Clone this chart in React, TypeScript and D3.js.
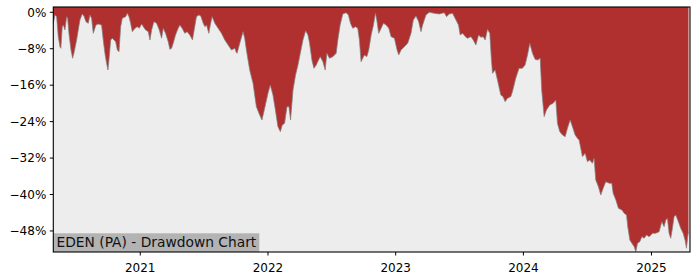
import React from "react";
import * as d3 from "d3";

const TITLE = "EDEN (PA) - Drawdown Chart";

// time as decimal years
const decimalYears = [
  2020.321, 2020.334, 2020.347, 2020.360, 2020.373, 2020.380, 2020.391, 2020.399, 2020.412, 2020.425,
  2020.433, 2020.443, 2020.459, 2020.472, 2020.482, 2020.503, 2020.516, 2020.529, 2020.547, 2020.560,
  2020.576, 2020.594, 2020.607, 2020.620, 2020.633, 2020.654, 2020.672, 2020.698, 2020.711, 2020.724,
  2020.737, 2020.748, 2020.758, 2020.769, 2020.782, 2020.795, 2020.808, 2020.821, 2020.834, 2020.847,
  2020.860, 2020.886, 2020.899, 2020.912, 2020.925, 2020.938, 2020.959, 2020.977, 2020.992, 2021.011,
  2021.024, 2021.042, 2021.063, 2021.076, 2021.089, 2021.107, 2021.128, 2021.149, 2021.167, 2021.180,
  2021.198, 2021.219, 2021.232, 2021.245, 2021.258, 2021.276, 2021.297, 2021.310, 2021.328, 2021.349,
  2021.367, 2021.388, 2021.409, 2021.422, 2021.440, 2021.459, 2021.474, 2021.493, 2021.506, 2021.519,
  2021.537, 2021.550, 2021.563, 2021.584, 2021.610, 2021.636, 2021.662, 2021.688, 2021.714, 2021.740,
  2021.753,
  2021.758, 2021.779, 2021.805, 2021.818, 2021.831, 2021.857, 2021.883, 2021.909, 2021.935, 2021.953,
  2021.974, 2022.000, 2022.018, 2022.039, 2022.058, 2022.078, 2022.097, 2022.112, 2022.130, 2022.149,
  2022.164, 2022.177, 2022.196, 2022.216, 2022.235, 2022.253, 2022.274, 2022.295, 2022.313, 2022.326,
  2022.344, 2022.360, 2022.378, 2022.396, 2022.409, 2022.430, 2022.448, 2022.461, 2022.482, 2022.508,
  2022.534, 2022.547, 2022.565, 2022.586, 2022.612, 2022.630, 2022.646, 2022.664, 2022.685, 2022.703,
  2022.716, 2022.729, 2022.742, 2022.755, 2022.774, 2022.789, 2022.808, 2022.826, 2022.841, 2022.852,
  2022.867, 2022.886, 2022.904, 2022.925, 2022.946, 2022.964, 2022.990, 2023.011, 2023.024, 2023.042,
  2023.068, 2023.094, 2023.120, 2023.138, 2023.159, 2023.180, 2023.198, 2023.211, 2023.237, 2023.263,
  2023.302, 2023.341, 2023.380, 2023.399, 2023.419, 2023.445, 2023.472, 2023.492, 2023.505, 2023.524,
  2023.550,
  2023.563, 2023.589, 2023.607, 2023.628, 2023.649, 2023.667, 2023.685, 2023.701, 2023.719, 2023.737,
  2023.748, 2023.758, 2023.779, 2023.797, 2023.823, 2023.841, 2023.857, 2023.875, 2023.901, 2023.914,
  2023.940, 2023.966, 2023.992, 2024.013, 2024.032, 2024.050, 2024.071, 2024.091, 2024.110, 2024.131,
  2024.143, 2024.162, 2024.180, 2024.206, 2024.232, 2024.253, 2024.266, 2024.284, 2024.305, 2024.326,
  2024.344, 2024.365, 2024.383, 2024.404, 2024.422, 2024.435, 2024.448, 2024.461, 2024.482, 2024.500,
  2024.518, 2024.539, 2024.552, 2024.565, 2024.586, 2024.604, 2024.623, 2024.643, 2024.670, 2024.690,
  2024.701, 2024.722, 2024.742, 2024.769, 2024.787, 2024.805, 2024.815, 2024.831, 2024.847, 2024.865,
  2024.878, 2024.891, 2024.909, 2024.925, 2024.943, 2024.961, 2024.982, 2025.008, 2025.034, 2025.060,
  2025.081, 2025.099, 2025.112, 2025.125, 2025.138, 2025.151, 2025.164, 2025.177, 2025.190, 2025.211,
  2025.229, 2025.248, 2025.263, 2025.274, 2025.284, 2025.290,
];

// drawdown in percent
const drawdownPct = [
  -2.42, -0.59, -0.96, -5.35, -7.54, -7.91, -3.15, -2.79, -3.88, -0.96,
  -1.32, -4.62, -8.27, -10.10, -9.0, -6.08, -3.88, -1.69, -0.37, -0.81,
  -2.06, -2.42, -0.59, -1.32, -4.62, -2.79, -2.57, -2.79, -6.08, -9.0,
  -11.2, -12.66, -9.74, -6.08, -5.71, -6.08, -6.45, -8.27, -8.64, -3.15,
  -1.32, -0.96, -0.23, -0.96, -2.42, -4.25, -3.52, -3.15, -3.52, -2.57,
  -3.15, -3.88, -4.25, -6.08, -3.88, -2.06, -2.42, -3.88, -5.71, -3.52,
  -4.62, -6.45, -8.13, -7.91, -6.81, -4.98, -3.52, -2.79, -3.52, -4.62,
  -4.25, -4.98, -6.08, -3.88, -0.96, -0.59, -0.81, -2.42, -3.15, -2.79,
  -4.62, -2.57, -0.96, -2.42, -3.52, -4.62, -6.08, -7.18, -8.27, -7.91,
  -8.86,
  -9.0, -6.81, -4.25, -5.71, -8.27, -12.66, -15.59, -20.71, -22.54, -23.64,
  -21.08, -17.79, -15.96, -18.15, -21.44, -25.10, -26.20, -24.74, -24.37, -20.71,
  -20.71, -23.64, -17.05, -13.76, -11.57, -9.0, -6.08, -4.03, -4.98, -6.81,
  -10.47, -12.30, -11.57, -10.47, -9.74, -10.84, -12.66, -9.0, -10.10, -9.74,
  -9.0, -6.08, -2.79, -0.37, -0.08, -0.59, -2.42, -3.52, -3.15, -3.52,
  -6.08, -10.84, -10.10, -9.37, -9.74, -8.27, -4.98, -2.79, -0.23, -1.69,
  -4.62, -3.52, -2.42, -2.79, -3.52, -5.35, -5.71, -8.27, -9.37, -8.27,
  -7.54, -6.81, -4.62, -1.69, -0.81, -2.06, -4.25, -2.79, -0.59, 0,
  -0.23, -0.37, -0.08, -0.96, -0.37, -0.23, -1.69, -2.79, -4.98, -4.62,
  -5.49,
  -5.71, -5.35, -6.08, -7.18, -4.98, -5.49, -5.35, -6.08, -3.74, -4.62,
  -9.74, -13.40, -12.66, -14.86, -18.15, -18.52, -19.62, -18.88, -18.52, -17.42,
  -14.49, -12.30, -12.30, -11.57, -9.37, -6.81, -9.0, -10.32, -10.47, -10.10,
  -17.05, -22.91, -21.44, -20.35, -19.98, -19.25, -24.37, -26.20, -26.93, -27.30,
  -25.47, -23.64, -25.10, -26.93, -27.66, -28.03, -29.85, -31.69, -30.95, -32.79,
  -32.42, -33.14, -32.05, -36.81, -38.28, -40.10, -38.63, -37.18, -37.53, -37.53,
  -39.73, -41.20, -43.02, -43.39, -44.12, -44.49, -47.06, -49.98, -50.70, -51.45,
  -52.55, -50.70, -50.35, -49.25, -49.61, -48.88, -49.25, -48.51, -48.51, -48.16,
  -45.96, -47.06, -45.59, -45.22, -48.51, -49.61, -47.41, -44.86, -44.49, -45.96,
  -47.41, -48.51, -49.98, -51.80, -49.25, -48.2,
];

const yTickValues = [0, -8, -16, -24, -32, -40, -48];
const xTickYears = [2021, 2022, 2023, 2024, 2025];
const yDomain = [-52.62, 1.16];

function toDate(t: number): Date {
  const yr = Math.floor(t);
  const s = Date.UTC(yr, 0, 1);
  const e = Date.UTC(yr + 1, 0, 1);
  return new Date(s + (t - yr) * (e - s));
}

export default function App() {
  const W = 700, H = 280;
  const L = 53.3, R = 690, T = 7, B = 252;
  const font = "'DejaVu Sans', sans-serif";
  const fs = 12;
  const titleFs = 13.8;

  const data = decimalYears.map((t, i) => ({ date: toDate(t), v: drawdownPct[i] }));
  const x = d3.scaleUtc()
    .domain(d3.extent(data, (d) => d.date) as [Date, Date])
    .range([L, R - 1.5]);
  const y = d3.scaleLinear().domain(yDomain).range([B, T]);

  const area = d3.area<{ date: Date; v: number }>()
    .x((d) => x(d.date))
    .y0(T)
    .y1((d) => y(d.v));
  const line = d3.line<{ date: Date; v: number }>()
    .x((d) => x(d.date))
    .y((d) => y(d.v));

  const minus = (s: string) => s.replace("-", "\u2212");

  return (
    <div style={{ position: "fixed", left: 0, top: 0 }}>
      <svg width={W} height={H} style={{ display: "block", background: "#fff" }}>
        <rect x={L} y={T} width={R - L} height={B - T} fill="#ededed" />
        <path d={area(data) || ""} fill="#b03030" />
        <path d={line(data) || ""} fill="none" stroke="#808080" strokeWidth={0.9} strokeOpacity={0.8} />
        {/* title box */}
        <rect x={L} y={233.3} width={206} height={B - 233.3} fill="#b3b3b3" />
        <text x={L + 3.2} y={247.3} fontFamily={font} fontSize={titleFs} fill="#111">{TITLE}</text>
        {/* frame */}
        <rect x={L} y={T} width={R - L} height={B - T} fill="none" stroke="#000" strokeWidth={1.1} />
        {/* y axis */}
        {yTickValues.map((v) => (
          <g key={v}>
            <line x1={L - 3.5} x2={L} y1={y(v)} y2={y(v)} stroke="#000" strokeWidth={1} />
            <text x={L - 7} y={y(v) + 4.3} textAnchor="end" fontFamily={font} fontSize={fs} fill="#000">
              {minus(`${v}%`)}
            </text>
          </g>
        ))}
        {/* x axis */}
        {xTickYears.map((yr) => {
          const px = x(new Date(Date.UTC(yr, 0, 1)));
          return (
            <g key={yr}>
              <line x1={px} x2={px} y1={B} y2={B + 3.5} stroke="#000" strokeWidth={1} />
              <text x={px} y={271.6} textAnchor="middle" fontFamily={font} fontSize={fs} fill="#000">
                {yr}
              </text>
            </g>
          );
        })}
      </svg>
    </div>
  );
}
